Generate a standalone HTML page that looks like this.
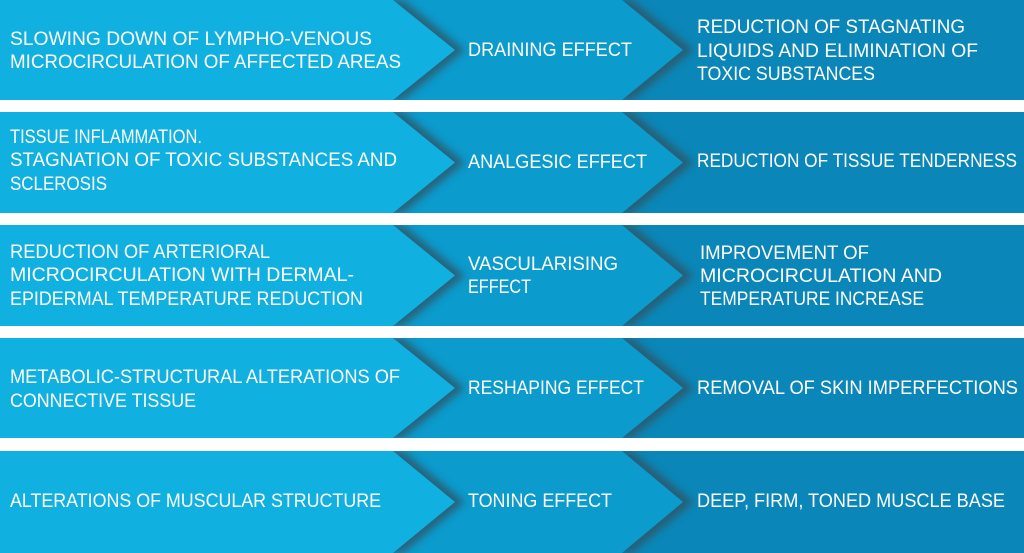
<!DOCTYPE html>
<html><head><meta charset="utf-8"><style>
html,body{margin:0;padding:0;background:#fff;}
svg{display:block;}
text{font-family:"Liberation Sans",sans-serif;font-size:19px;fill:#fff;}
</style></head><body>
<svg width="1024" height="553" viewBox="0 0 1024 553" xmlns="http://www.w3.org/2000/svg">
<defs>
<filter id="sh" x="-20%" y="-20%" width="140%" height="140%"><feGaussianBlur stdDeviation="4"/></filter>
</defs>
<rect width="1024" height="553" fill="#fff"/>
<g>
<rect x="0" y="0" width="1024" height="100" fill="#0a87b8"/>
<polygon points="0,0 632,0 694,50 632,100 0,100" fill="#2f5566" filter="url(#sh)" opacity="0.8"/>
<polygon points="0,0 622,0 683,50 622,100 0,100" fill="#0b9bcd"/>
<polygon points="0,0 403,0 465,50 403,100 0,100" fill="#2f5566" filter="url(#sh)" opacity="0.8"/>
<polygon points="0,0 393,0 455,50 393,100 0,100" fill="#10b0e0"/>
</g>
<g>
<rect x="0" y="112" width="1024" height="101" fill="#0a87b8"/>
<polygon points="0,112 632,112 694,162.5 632,213 0,213" fill="#2f5566" filter="url(#sh)" opacity="0.8"/>
<polygon points="0,112 622,112 683,162.5 622,213 0,213" fill="#0b9bcd"/>
<polygon points="0,112 403,112 465,162.5 403,213 0,213" fill="#2f5566" filter="url(#sh)" opacity="0.8"/>
<polygon points="0,112 393,112 455,162.5 393,213 0,213" fill="#10b0e0"/>
</g>
<g>
<rect x="0" y="225" width="1024" height="101" fill="#0a87b8"/>
<polygon points="0,225 632,225 694,275.5 632,326 0,326" fill="#2f5566" filter="url(#sh)" opacity="0.8"/>
<polygon points="0,225 622,225 683,275.5 622,326 0,326" fill="#0b9bcd"/>
<polygon points="0,225 403,225 465,275.5 403,326 0,326" fill="#2f5566" filter="url(#sh)" opacity="0.8"/>
<polygon points="0,225 393,225 455,275.5 393,326 0,326" fill="#10b0e0"/>
</g>
<g>
<rect x="0" y="338" width="1024" height="100" fill="#0a87b8"/>
<polygon points="0,338 632,338 694,388 632,438 0,438" fill="#2f5566" filter="url(#sh)" opacity="0.8"/>
<polygon points="0,338 622,338 683,388 622,438 0,438" fill="#0b9bcd"/>
<polygon points="0,338 403,338 465,388 403,438 0,438" fill="#2f5566" filter="url(#sh)" opacity="0.8"/>
<polygon points="0,338 393,338 455,388 393,438 0,438" fill="#10b0e0"/>
</g>
<g>
<rect x="0" y="451" width="1024" height="102" fill="#0a87b8"/>
<polygon points="0,451 632,451 694,502 632,553 0,553" fill="#2f5566" filter="url(#sh)" opacity="0.8"/>
<polygon points="0,451 622,451 683,502 622,553 0,553" fill="#0b9bcd"/>
<polygon points="0,451 403,451 465,502 403,553 0,553" fill="#2f5566" filter="url(#sh)" opacity="0.8"/>
<polygon points="0,451 393,451 455,502 393,553 0,553" fill="#10b0e0"/>
</g>
<rect x="0" y="100" width="1024" height="12" fill="#fff"/>
<rect x="0" y="213" width="1024" height="12" fill="#fff"/>
<rect x="0" y="326" width="1024" height="12" fill="#fff"/>
<rect x="0" y="438" width="1024" height="13" fill="#fff"/>

<g>
<text x="10" y="45" textLength="362" lengthAdjust="spacingAndGlyphs">SLOWING DOWN OF LYMPHO-VENOUS</text>
<text x="10" y="68" textLength="391" lengthAdjust="spacingAndGlyphs">MICROCIRCULATION OF AFFECTED AREAS</text>
<text x="468" y="56" textLength="164" lengthAdjust="spacingAndGlyphs">DRAINING EFFECT</text>
<text x="697" y="33" textLength="268" lengthAdjust="spacingAndGlyphs">REDUCTION OF STAGNATING</text>
<text x="697" y="57" textLength="281" lengthAdjust="spacingAndGlyphs">LIQUIDS AND ELIMINATION OF</text>
<text x="697" y="80" textLength="178" lengthAdjust="spacingAndGlyphs">TOXIC SUBSTANCES</text>

<text x="10" y="143" textLength="192" lengthAdjust="spacingAndGlyphs">TISSUE INFLAMMATION.</text>
<text x="10" y="166" textLength="387" lengthAdjust="spacingAndGlyphs">STAGNATION OF TOXIC SUBSTANCES AND</text>
<text x="10" y="190" textLength="97" lengthAdjust="spacingAndGlyphs">SCLEROSIS</text>
<text x="468" y="168" textLength="179" lengthAdjust="spacingAndGlyphs">ANALGESIC EFFECT</text>
<text x="697" y="167" textLength="320" lengthAdjust="spacingAndGlyphs">REDUCTION OF TISSUE TENDERNESS</text>

<text x="10" y="258" textLength="260" lengthAdjust="spacingAndGlyphs">REDUCTION OF ARTERIORAL</text>
<text x="10" y="281" textLength="344" lengthAdjust="spacingAndGlyphs">MICROCIRCULATION WITH DERMAL-</text>
<text x="10" y="305" textLength="353" lengthAdjust="spacingAndGlyphs">EPIDERMAL TEMPERATURE REDUCTION</text>
<text x="468" y="270" textLength="150" lengthAdjust="spacingAndGlyphs">VASCULARISING</text>
<text x="468" y="293" textLength="63" lengthAdjust="spacingAndGlyphs">EFFECT</text>
<text x="700" y="259" textLength="169" lengthAdjust="spacingAndGlyphs">IMPROVEMENT OF</text>
<text x="700" y="282" textLength="242" lengthAdjust="spacingAndGlyphs">MICROCIRCULATION AND</text>
<text x="700" y="305" textLength="224" lengthAdjust="spacingAndGlyphs">TEMPERATURE INCREASE</text>

<text x="10" y="383" textLength="390" lengthAdjust="spacingAndGlyphs">METABOLIC-STRUCTURAL ALTERATIONS OF</text>
<text x="10" y="407" textLength="186" lengthAdjust="spacingAndGlyphs">CONNECTIVE TISSUE</text>
<text x="468" y="394" textLength="176" lengthAdjust="spacingAndGlyphs">RESHAPING EFFECT</text>
<text x="697" y="394" textLength="321" lengthAdjust="spacingAndGlyphs">REMOVAL OF SKIN IMPERFECTIONS</text>

<text x="10" y="507" textLength="371" lengthAdjust="spacingAndGlyphs">ALTERATIONS OF MUSCULAR STRUCTURE</text>
<text x="468" y="507" textLength="144" lengthAdjust="spacingAndGlyphs">TONING EFFECT</text>
<text x="697" y="507" textLength="308" lengthAdjust="spacingAndGlyphs">DEEP, FIRM, TONED MUSCLE BASE</text>
</g>
</svg>
</body></html>
